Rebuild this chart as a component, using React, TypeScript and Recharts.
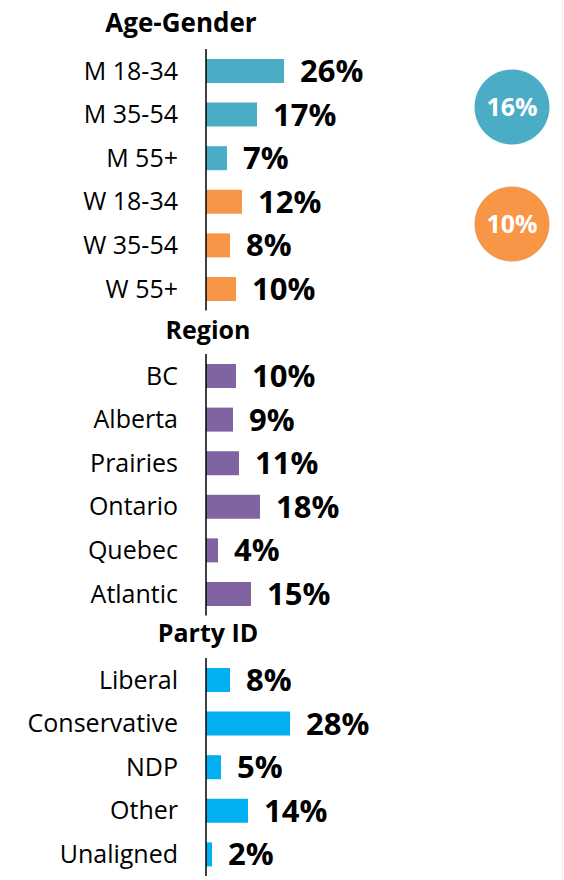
import { BarChart, Bar, XAxis, YAxis, Cell, LabelList, PieChart, Pie } from 'recharts';

// Age-Gender block
const ageGenderLabels = ['M 18-34', 'M 35-54', 'M 55+', 'W 18-34', 'W 35-54', 'W 55+'];
const ageGenderValues = [26, 17, 7, 12, 8, 10];

// Region block
const regionLabels = ['BC', 'Alberta', 'Prairies', 'Ontario', 'Quebec', 'Atlantic'];
const regionValues = [10, 9, 11, 18, 4, 15];

// Party ID block
const partyLabels = ['Liberal', 'Conservative', 'NDP', 'Other', 'Unaligned'];
const partyValues = [8, 28, 5, 14, 2];

// Overall men / women bubbles
const genderTotalLabels = ['Men', 'Women'];
const genderTotalValues = [16, 10];

const MEN = '#4BACC6';
const WOMEN = '#F79646';
const REGION = '#8064A2';
const PARTY = '#00B0F0';

const ROW = 43.6;
const FONT = "'Open Sans', sans-serif";

interface SectionProps {
  labels: string[];
  values: number[];
  colors: string[];
  top: number;
}

function Section({ labels, values, colors, top }: SectionProps) {
  const data = labels.map((label, i) => ({ label, value: values[i] }));

  return (
    <div style={{ position: 'absolute', left: 0, top }}>
      <BarChart
        width={564}
        height={labels.length * ROW}
        data={data}
        layout="vertical"
        margin={{ top: 0, right: 58, bottom: 0, left: 0 }}
      >
        <XAxis type="number" domain={[0, 100]} hide />
        <YAxis
          type="category"
          dataKey="label"
          width={206}
          interval={0}
          tickLine={false}
          tickSize={0}
          tickMargin={28}
          axisLine={{ stroke: '#000', strokeWidth: 1.5 }}
          tick={{ fill: '#000', fontSize: 25, fontFamily: FONT }}
        />
        <Bar dataKey="value" barSize={24} isAnimationActive={false}>
          {data.map((entry, index) => (
            <Cell key={`cell-${entry.label}`} fill={colors[index]} />
          ))}
          <LabelList
            dataKey="value"
            position="right"
            offset={16}
            formatter={(v: any) => `${v}%`}
            fill="#000"
            fontSize={31}
            fontWeight={700}
            fontFamily={FONT}
          />
        </Bar>
      </BarChart>
    </div>
  );
}

function Bubble({ value, color, cx, cy }: { value: number; color: string; cx: number; cy: number }) {
  return (
    <div style={{ position: 'absolute', left: cx - 40, top: cy - 40 }}>
      <PieChart width={80} height={80} margin={{ top: 0, right: 0, bottom: 0, left: 0 }}>
        <Pie
          data={[{ value }]}
          dataKey="value"
          cx={40}
          cy={40}
          innerRadius={0}
          outerRadius={37.5}
          stroke="none"
          fill={color}
          isAnimationActive={false}
          labelLine={false}
          label={(props: any) => (
            <text
              key="bubble-label"
              x={props.cx}
              y={props.cy + 9}
              textAnchor="middle"
              fill="#fff"
              style={{ fontSize: 25, fontWeight: 700, fontFamily: FONT }}
            >
              {`${props.value}%`}
            </text>
          )}
        />
      </PieChart>
    </div>
  );
}

export default function App() {
  return (
    <div style={{ position: 'relative', width: 564, height: 880, fontFamily: FONT, background: '#fff' }}>
      <style>{'body{margin:0}'}</style>

      {/* Section headers */}
      <svg width={564} height={880} style={{ position: 'absolute', left: 0, top: 0 }}>
        <text x={181} y={32} textAnchor="middle" fontSize={26} fontWeight={700} fill="#000" fontFamily={FONT}>
          Age-Gender
        </text>
        <text x={208} y={339} textAnchor="middle" fontSize={25} fontWeight={700} fill="#000" fontFamily={FONT}>
          Region
        </text>
        <text x={208} y={642} textAnchor="middle" fontSize={25} fontWeight={700} fill="#000" fontFamily={FONT}>
          Party ID
        </text>
        <line x1={562.5} y1={0} x2={562.5} y2={880} stroke="#ececec" strokeWidth={1} />
      </svg>

      <Section
        labels={ageGenderLabels}
        values={ageGenderValues}
        colors={[MEN, MEN, MEN, WOMEN, WOMEN, WOMEN]}
        top={49}
      />
      <Section labels={regionLabels} values={regionValues} colors={regionLabels.map(() => REGION)} top={354} />
      <Section labels={partyLabels} values={partyValues} colors={partyLabels.map(() => PARTY)} top={658} />

      {genderTotalLabels.map((name, i) => (
        <Bubble
          key={name}
          value={genderTotalValues[i]}
          color={i === 0 ? MEN : WOMEN}
          cx={512}
          cy={i === 0 ? 107 : 224}
        />
      ))}
    </div>
  );
}
